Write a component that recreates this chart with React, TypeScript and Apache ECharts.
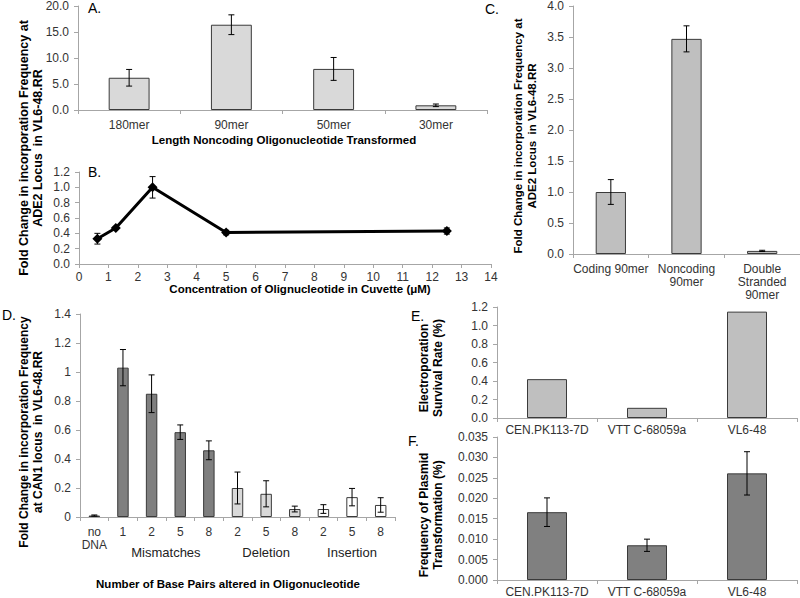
import React, { useEffect, useRef } from 'react';
import * as echarts from 'echarts';

// Panel A
const aCategories = ['180mer', '90mer', '50mer', '30mer'];
const aValues = [6.2, 16.4, 7.9, 0.9];
const aErrors = [1.6, 1.9, 2.2, 0.25];

// Panel B
const bConc = [0.625, 1.25, 2.5, 5, 12.5];
const bValues = [0.33, 0.47, 1.0, 0.41, 0.43];
const bErrors = [0.07, 0.02, 0.14, 0.03, 0.04];

// Panel C
const cCategories = ['Coding 90mer', 'Noncoding\n90mer', 'Double\nStranded\n90mer'];
const cValues = [1.0, 3.47, 0.05];
const cErrors = [0.2, 0.21, 0.01];

// Panel D
const dCategories = ['no\nDNA', '1', '2', '5', '8', '2', '5', '8', '2', '5', '8'];
const dValues = [0.01, 1.03, 0.85, 0.585, 0.46, 0.2, 0.16, 0.055, 0.055, 0.137, 0.083];
const dErrors = [0.004, 0.125, 0.13, 0.05, 0.065, 0.11, 0.09, 0.02, 0.03, 0.06, 0.05];
const dGroupOf = [0, 1, 1, 1, 1, 2, 2, 2, 3, 3, 3];
const dGroupNames = ['Mismatches', 'Deletion', 'Insertion'];
const dGroupStart = [1, 5, 8];
const dGroupEnd = [4, 7, 10];

// Panels E and F
const strains = ['CEN.PK113-7D', 'VTT C-68059a', 'VL6-48'];
const eValues = [0.42, 0.11, 1.15];
const fValues = [0.0166, 0.0085, 0.0261];
const fErrors = [0.0035, 0.0015, 0.0053];

const FONT = '"Liberation Sans", Arial, sans-serif';
const AXIS_COLOR = '#a6a6a6';
const LABEL_COLOR = '#333333';
const BORDER = '#3a3a3a';
const dColors = ['#000000', '#7f7f7f', '#d9d9d9', '#ffffff'];

function errData(vals: number[], errs: number[], xs?: number[]) {
  return vals.map((v, i) => [xs ? xs[i] : i, v - errs[i], v + errs[i]]);
}

const errorRender = (params: any, api: any) => {
  const x = api.value(0);
  const lo = api.value(1);
  const hi = api.value(2);
  const p1 = api.coord([x, hi]);
  const p2 = api.coord([x, lo]);
  const w = 3;
  const st = { stroke: '#000', lineWidth: 1 };
  return {
    type: 'group',
    children: [
      { type: 'line', shape: { x1: p1[0], y1: p1[1], x2: p2[0], y2: p2[1] }, style: st },
      { type: 'line', shape: { x1: p1[0] - w, y1: p1[1], x2: p1[0] + w, y2: p1[1] }, style: st },
      { type: 'line', shape: { x1: p2[0] - w, y1: p2[1], x2: p2[0] + w, y2: p2[1] }, style: st },
    ],
  };
};

const yAx = (gridIndex: number, max: number, interval: number, fmt?: (v: number) => string) => ({
  type: 'value',
  gridIndex,
  min: 0,
  max,
  interval,
  axisLine: { show: true, lineStyle: { color: AXIS_COLOR } },
  axisTick: { show: true, length: 4, lineStyle: { color: AXIS_COLOR } },
  splitLine: { show: false },
  axisLabel: { color: LABEL_COLOR, fontSize: 12, fontFamily: FONT, margin: 9, formatter: fmt },
});

const xCat = (gridIndex: number, data: string[], margin = 8) => ({
  type: 'category',
  gridIndex,
  data,
  axisLine: { show: true, lineStyle: { color: AXIS_COLOR } },
  axisTick: { show: true, length: 4, lineStyle: { color: AXIS_COLOR } },
  axisLabel: { color: LABEL_COLOR, fontSize: 12, fontFamily: FONT, margin, interval: 0, lineHeight: 13 },
});

const txt = (text: string, x: number, y: number, opts: any = {}) => ({
  type: 'text',
  x,
  y,
  rotation: opts.rot || 0,
  style: {
    text,
    fontSize: opts.size || 12,
    fontWeight: opts.bold ? 'bold' : 'normal',
    fontFamily: FONT,
    fill: '#000',
    textAlign: opts.align || 'center',
    textVerticalAlign: 'middle',
    align: opts.align || 'center',
    verticalAlign: 'middle',
    lineHeight: opts.lh || 14,
  },
});

const errSeries = (idx: number, data: number[][]) => ({
  type: 'custom',
  xAxisIndex: idx,
  yAxisIndex: idx,
  renderItem: errorRender,
  encode: { x: 0, y: [1, 2] },
  data,
  z: 5,
});

const barStyle = (color: string) => ({ color, borderColor: BORDER, borderWidth: 1 });

export default function App() {
  const ref = useRef<HTMLDivElement>(null);
  useEffect(() => {
    if (!ref.current) return;
    const chart = echarts.init(ref.current, undefined, { renderer: 'svg' });
    const option: any = {
      animation: false,
      backgroundColor: '#ffffff',
      grid: [
        { left: 78, top: 5, width: 409, height: 105 },
        { left: 79, top: 172, width: 412, height: 92 },
        { left: 573, top: 6, width: 227, height: 248 },
        { left: 80, top: 314, width: 315, height: 203 },
        { left: 497, top: 307, width: 300, height: 111 },
        { left: 497, top: 437, width: 300, height: 144 },
      ],
      xAxis: [
        xCat(0, aCategories),
        {
          type: 'value',
          gridIndex: 1,
          min: 0,
          max: 14,
          interval: 1,
          axisLine: { show: true, lineStyle: { color: AXIS_COLOR } },
          axisTick: { show: true, length: 4, lineStyle: { color: AXIS_COLOR } },
          splitLine: { show: false },
          axisLabel: { color: LABEL_COLOR, fontSize: 12, fontFamily: FONT, margin: 7 },
        },
        xCat(2, cCategories),
        xCat(3, dCategories),
        xCat(4, strains, 5),
        xCat(5, strains, 5),
      ],
      yAxis: [
        yAx(0, 20, 5, (v) => v.toFixed(1)),
        yAx(1, 1.2, 0.2, (v) => v.toFixed(1)),
        yAx(2, 4, 0.5, (v) => v.toFixed(1)),
        yAx(3, 1.4, 0.2),
        yAx(4, 1.2, 0.2, (v) => v.toFixed(1)),
        yAx(5, 0.035, 0.005, (v) => v.toFixed(3)),
      ],
      series: [
        { type: 'bar', xAxisIndex: 0, yAxisIndex: 0, data: aValues, barWidth: '40%', itemStyle: barStyle('#d9d9d9') },
        errSeries(0, errData(aValues, aErrors)),
        {
          type: 'line',
          xAxisIndex: 1,
          yAxisIndex: 1,
          data: bConc.map((x, i) => [x, bValues[i]]),
          symbol: 'diamond',
          symbolSize: 10,
          lineStyle: { color: '#000', width: 3 },
          itemStyle: { color: '#000' },
          z: 4,
        },
        errSeries(1, errData(bValues, bErrors, bConc)),
        { type: 'bar', xAxisIndex: 2, yAxisIndex: 2, data: cValues, barWidth: '40%', itemStyle: barStyle('#bfbfbf') },
        errSeries(2, errData(cValues, cErrors)),
        {
          type: 'bar',
          xAxisIndex: 3,
          yAxisIndex: 3,
          barWidth: '40%',
          data: dValues.map((v, i) => ({ value: v, itemStyle: barStyle(dColors[dGroupOf[i]]) })),
        },
        errSeries(3, errData(dValues, dErrors)),
        {
          type: 'custom',
          xAxisIndex: 3,
          yAxisIndex: 3,
          encode: { x: [0, 1], y: 2 },
          data: dGroupStart.map((s, i) => [s, dGroupEnd[i], 0]),
          renderItem: (params: any, api: any) => {
            const a = api.coord([api.value(0), 0]);
            const b = api.coord([api.value(1), 0]);
            return {
              type: 'text',
              x: (a[0] + b[0]) / 2,
              y: a[1] + 35,
              style: {
                text: dGroupNames[params.dataIndex],
                textAlign: 'center',
                textVerticalAlign: 'middle',
                align: 'center',
                verticalAlign: 'middle',
                fill: '#222',
                fontSize: 13,
                fontFamily: FONT,
              },
            };
          },
        },
        { type: 'bar', xAxisIndex: 4, yAxisIndex: 4, data: eValues, barWidth: '40%', itemStyle: barStyle('#bfbfbf') },
        { type: 'bar', xAxisIndex: 5, yAxisIndex: 5, data: fValues, barWidth: '40%', itemStyle: barStyle('#808080') },
        errSeries(5, errData(fValues, fErrors)),
      ],
      graphic: [
        txt('A.', 88, 8, { size: 14, align: 'left' }),
        txt('B.', 88, 172, { size: 14, align: 'left' }),
        txt('C.', 485, 9, { size: 14, align: 'left' }),
        txt('D.', 2, 315, { size: 14, align: 'left' }),
        txt('E.', 411, 316, { size: 14, align: 'left' }),
        txt('F.', 408, 441, { size: 14, align: 'left' }),
        txt('Length Noncoding Oligonucleotide Transformed', 284, 140, { bold: true, size: 11.5 }),
        txt('Concentration of Olignucleotide in Cuvette (\u03bcM)', 300, 289, { bold: true, size: 11.5 }),
        txt('Number of Base Pairs altered in Oligonucleotide', 228, 584, { bold: true, size: 11.5 }),
        txt('Fold Change in incorporation Frequency at\nADE2 Locus  in VL6-48.RR', 30.5, 148, { bold: true, size: 12.5, rot: Math.PI / 2 }),
        txt('Fold Change in incorporation Frequency at\nADE2 Locus  in VL6-48.RR', 525, 136, { bold: true, size: 11.5, rot: Math.PI / 2 }),
        txt('Fold Change in incorporation Frequency\nat CAN1 locus  in VL6-48.RR', 30.5, 432, { bold: true, size: 12, rot: Math.PI / 2 }),
        txt('Electroporation\nSurvival Rate (%)', 431, 368, { bold: true, size: 12, rot: Math.PI / 2 }),
        txt('Frequency of Plasmid\nTransformation (%)', 431, 515, { bold: true, size: 12, rot: Math.PI / 2 }),
      ],
    };
    chart.setOption(option);
    return () => chart.dispose();
  }, []);
  return <div ref={ref} style={{ position: 'absolute', left: 0, top: 0, width: 800, height: 598 }} />;
}
